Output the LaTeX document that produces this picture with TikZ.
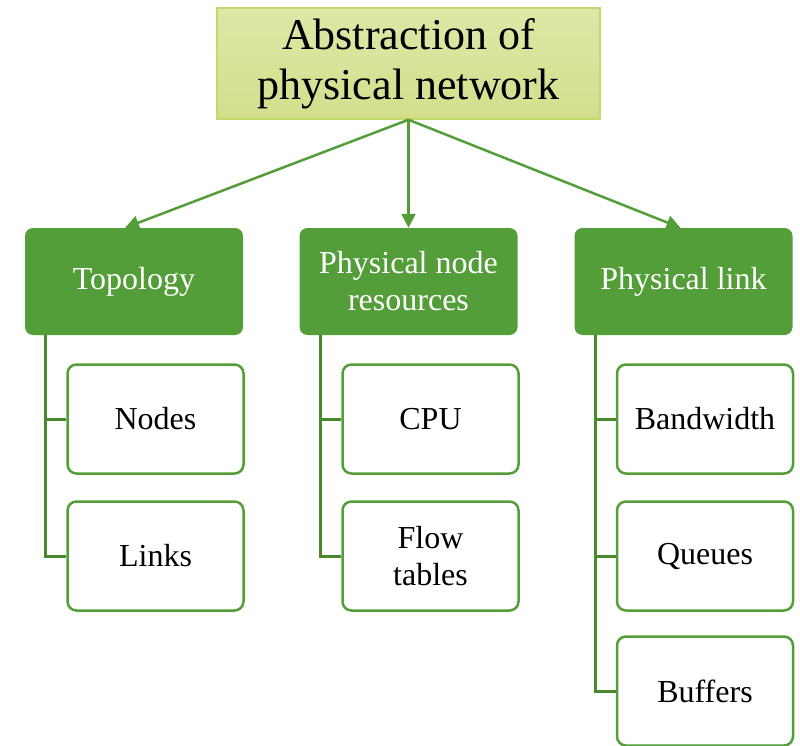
\documentclass[tikz,border=0pt]{standalone}
\usepackage{fontspec}
\setmainfont{Liberation Serif}
\usetikzlibrary{arrows.meta}

\definecolor{leafgreen}{RGB}{84,158,58}
\definecolor{treegreen}{RGB}{74,136,46}
\definecolor{titletop}{RGB}{222,232,168}
\definecolor{titlebot}{RGB}{211,222,140}
\definecolor{titleline}{RGB}{196,216,106}

\tikzset{
  titlebox/.style={draw=titleline, line width=1.5pt, top color=titletop,
    bottom color=titlebot, minimum width=383pt, minimum height=111pt,
    align=center, inner sep=0pt,
    font=\fontsize{44}{50}\selectfont},
  groupbox/.style={fill=leafgreen, draw=none, rounded corners=8pt,
    minimum width=218pt, minimum height=107pt, align=center,
    text=white, inner sep=0pt, font=\fontsize{32}{37}\selectfont},
  itembox/.style={draw=leafgreen, line width=2.5pt, fill=white,
    rounded corners=9pt, minimum width=176pt, minimum height=109pt,
    align=center, inner sep=0pt, font=\fontsize{32}{37}\selectfont},
  fanout/.style={draw=leafgreen, line width=2.5pt,
    -{Triangle[length=14pt,width=14pt]}},
  branch/.style={draw=treegreen, line width=3pt}
}

\begin{document}
\begin{tikzpicture}[x=1pt,y=-1pt]
  \useasboundingbox (0,0) rectangle (800,746);

  \node[titlebox] (root) at (408.5,63.5) {Abstraction of\\physical network};

  \node[groupbox] (topo) at (134,281.5) {Topology};
  \node[groupbox] (res)  at (408.5,281.5) {Physical node\\resources};
  \node[groupbox] (link) at (683.5,281.5) {Physical link};

  \node[itembox] (nodes) at (155.5,419) {Nodes};
  \node[itembox] (links) at (155.5,556) {Links};
  \node[itembox] (cpu)   at (430.5,419) {CPU};
  \node[itembox] (flow)  at (430.5,556) {Flow\\tables};
  \node[itembox] (bw)    at (705,419) {Bandwidth};
  \node[itembox] (queue) at (705,556) {Queues};
  \node[itembox] (buf)   at (705,691) {Buffers};

  % fan-out arrows from the root
  \draw[fanout] (root.south) -- ([xshift=-9pt]topo.north);
  \draw[fanout] (root.south) -- (res.north);
  \draw[fanout] (root.south) -- ([xshift=-3pt]link.north);

  % tree branches down the left side of each group
  \coordinate (ta) at ([xshift=21pt]topo.south west);
  \coordinate (ra) at ([xshift=21pt]res.south west);
  \coordinate (la) at ([xshift=21pt]link.south west);

  \draw[branch] (ta) |- (links.west);
  \draw[branch] (ta |- nodes.west) -- (nodes.west);
  \draw[branch] (ra) |- (flow.west);
  \draw[branch] (ra |- cpu.west) -- (cpu.west);
  \draw[branch] (la) |- (buf.west);
  \draw[branch] (la |- bw.west) -- (bw.west);
  \draw[branch] (la |- queue.west) -- (queue.west);
\end{tikzpicture}
\end{document}
